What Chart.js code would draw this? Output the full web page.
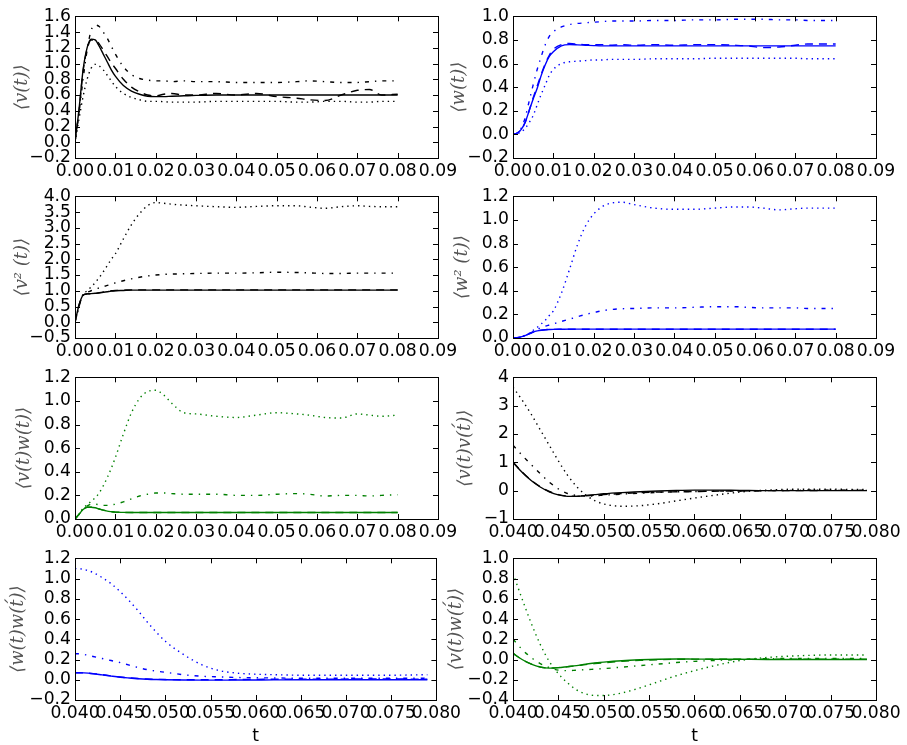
<!DOCTYPE html>
<html>
<head>
<meta charset="utf-8">
<script src="https://cdn.jsdelivr.net/npm/chart.js@4.4.1/dist/chart.umd.min.js"></script>
<style>
  body { margin: 0; background: #fff; width: 907px; height: 745px; overflow: hidden; position: relative; }
  canvas { position: absolute; }
</style>
</head>
<body>
<script>
// time grids
const tRise = [0, 0.001, 0.002, 0.003, 0.004, 0.005, 0.006, 0.007, 0.008, 0.009, 0.010,
  0.012, 0.014, 0.016, 0.018, 0.020, 0.022, 0.024, 0.027, 0.030,
  0.035, 0.040, 0.045, 0.050, 0.055, 0.058, 0.062, 0.066, 0.070, 0.073, 0.076, 0.080];
const tLag = [0.040, 0.041, 0.042, 0.043, 0.044, 0.045, 0.046, 0.047, 0.048, 0.049, 0.050,
  0.052, 0.054, 0.056, 0.058, 0.060, 0.062, 0.065, 0.068, 0.071, 0.075, 0.079];

// tick labels
const xTicksRise = [0, 0.01, 0.02, 0.03, 0.04, 0.05, 0.06, 0.07, 0.08, 0.09];
const xTicksLag = [0.040, 0.045, 0.050, 0.055, 0.060, 0.065, 0.070, 0.075, 0.080];
const yTicks1 = [-0.2, 0, 0.2, 0.4, 0.6, 0.8, 1.0, 1.2, 1.4, 1.6];
const yTicks2 = [-0.2, 0, 0.2, 0.4, 0.6, 0.8, 1.0];
const yTicks3 = [-0.5, 0, 0.5, 1.0, 1.5, 2.0, 2.5, 3.0, 3.5, 4.0];
const yTicks4 = [0, 0.2, 0.4, 0.6, 0.8, 1.0, 1.2];
const yTicks5 = [0, 0.2, 0.4, 0.6, 0.8, 1.0, 1.2];
const yTicks6 = [-1, 0, 1, 2, 3, 4];
const yTicks7 = [-0.2, 0, 0.2, 0.4, 0.6, 0.8, 1.0, 1.2];
const yTicks8 = [-0.4, -0.2, 0, 0.2, 0.4, 0.6, 0.8, 1.0];

const yLabels = ['⟨v(t)⟩', '⟨w(t)⟩', '⟨v² (t)⟩', '⟨w² (t)⟩',
  '⟨v(t)w(t)⟩', '⟨v(t)v(t\u0301)⟩', '⟨w(t)w(t\u0301)⟩', '⟨v(t)w(t\u0301)⟩'];

// <v(t)>
const v1Solid = [0, 0.42, 0.92, 1.2, 1.31, 1.3, 1.22, 1.12, 1.02, 0.92, 0.84,
  0.72, 0.65, 0.61, 0.585, 0.58, 0.58, 0.585, 0.59, 0.595,
  0.6, 0.6, 0.6, 0.6, 0.6, 0.6, 0.6, 0.6, 0.6, 0.6, 0.6, 0.6];
const v1Dashed = [0, 0.4, 0.9, 1.18, 1.3, 1.3, 1.25, 1.17, 1.09, 1.01, 0.94,
  0.8, 0.7, 0.64, 0.6, 0.59, 0.61, 0.62, 0.6, 0.6,
  0.62, 0.6, 0.62, 0.58, 0.56, 0.54, 0.53, 0.6, 0.66, 0.67, 0.6, 0.61];
const v1DashDot = [0, 0.38, 0.8, 1.17, 1.42, 1.49, 1.47, 1.4, 1.32, 1.22, 1.12,
  0.96, 0.86, 0.81, 0.79, 0.78, 0.78, 0.77, 0.78, 0.77,
  0.77, 0.76, 0.76, 0.76, 0.77, 0.78, 0.77, 0.76, 0.76, 0.77, 0.78, 0.78];
const v1Dotted = [0, 0.3, 0.58, 0.8, 0.94, 0.99, 0.97, 0.92, 0.85, 0.78, 0.71,
  0.62, 0.57, 0.54, 0.52, 0.52, 0.515, 0.51, 0.51, 0.51,
  0.52, 0.52, 0.52, 0.52, 0.51, 0.51, 0.52, 0.52, 0.51, 0.51, 0.52, 0.52];

// <w(t)>
const v2Solid = [0, 0.01, 0.04, 0.1, 0.2, 0.3, 0.39, 0.5, 0.59, 0.66, 0.7,
  0.75, 0.76, 0.758, 0.755, 0.752, 0.75, 0.75, 0.75, 0.75,
  0.75, 0.75, 0.75, 0.75, 0.75, 0.75, 0.75, 0.75, 0.75, 0.75, 0.75, 0.75];
const v2Dashed = [0, 0.01, 0.04, 0.1, 0.2, 0.31, 0.41, 0.51, 0.6, 0.67, 0.72,
  0.76, 0.77, 0.765, 0.76, 0.76, 0.76, 0.755, 0.76, 0.755,
  0.76, 0.755, 0.76, 0.76, 0.755, 0.75, 0.735, 0.74, 0.755, 0.765, 0.765, 0.765];
const v2DashDot = [0, 0.01, 0.05, 0.14, 0.28, 0.42, 0.55, 0.66, 0.76, 0.83, 0.87,
  0.91, 0.93, 0.94, 0.945, 0.95, 0.955, 0.96, 0.96, 0.96,
  0.965, 0.965, 0.97, 0.97, 0.975, 0.975, 0.975, 0.97, 0.97, 0.965, 0.965, 0.965];
const v2Dotted = [0, 0.005, 0.02, 0.05, 0.1, 0.16, 0.25, 0.34, 0.42, 0.5, 0.55,
  0.6, 0.615, 0.62, 0.625, 0.63, 0.63, 0.635, 0.635, 0.635,
  0.64, 0.64, 0.64, 0.645, 0.645, 0.645, 0.645, 0.645, 0.645, 0.64, 0.64, 0.64];

// <v^2(t)>
const v3Solid = [0, 0.55, 0.86, 0.9, 0.91, 0.92, 0.93, 0.95, 0.97, 0.99, 1.0,
  1.01, 1.02, 1.02, 1.02, 1.02, 1.02, 1.02, 1.02, 1.02,
  1.02, 1.02, 1.02, 1.02, 1.02, 1.02, 1.02, 1.02, 1.02, 1.02, 1.02, 1.02];
const v3Dashed = [0, 0.55, 0.86, 0.9, 0.91, 0.92, 0.94, 0.96, 0.98, 1.0, 1.01,
  1.02, 1.03, 1.03, 1.03, 1.03, 1.03, 1.03, 1.03, 1.03,
  1.03, 1.03, 1.03, 1.03, 1.03, 1.03, 1.03, 1.03, 1.03, 1.03, 1.03, 1.03];
const v3DashDot = [0, 0.5, 0.88, 0.95, 1.0, 1.05, 1.09, 1.13, 1.17, 1.21, 1.25,
  1.32, 1.38, 1.43, 1.47, 1.5, 1.52, 1.53, 1.54, 1.55,
  1.56, 1.56, 1.57, 1.59, 1.58, 1.57, 1.55, 1.55, 1.56, 1.56, 1.56, 1.56];
const v3Dotted = [0, 0.5, 0.88, 1.0, 1.12, 1.26, 1.42, 1.6, 1.8, 2.0, 2.17,
  2.65, 3.1, 3.45, 3.7, 3.8, 3.78, 3.75, 3.72, 3.7,
  3.67, 3.65, 3.68, 3.7, 3.7, 3.66, 3.62, 3.67, 3.7, 3.68, 3.67, 3.67];

// <w^2(t)>
const v4Solid = [0, 0.003, 0.01, 0.02, 0.035, 0.05, 0.06, 0.066, 0.07, 0.072, 0.073,
  0.074, 0.075, 0.075, 0.075, 0.075, 0.075, 0.075, 0.075, 0.075,
  0.075, 0.075, 0.075, 0.075, 0.075, 0.075, 0.075, 0.075, 0.075, 0.075, 0.075, 0.075];
const v4Dashed = [0, 0.003, 0.01, 0.02, 0.035, 0.05, 0.06, 0.066, 0.07, 0.072, 0.073,
  0.074, 0.074, 0.074, 0.074, 0.074, 0.074, 0.074, 0.074, 0.074,
  0.074, 0.074, 0.074, 0.074, 0.074, 0.074, 0.074, 0.074, 0.074, 0.074, 0.074, 0.074];
const v4DashDot = [0, 0.003, 0.01, 0.02, 0.037, 0.055, 0.072, 0.088, 0.1, 0.11, 0.12,
  0.14, 0.16, 0.18, 0.2, 0.215, 0.23, 0.24, 0.248, 0.25,
  0.255, 0.255, 0.26, 0.265, 0.265, 0.26, 0.255, 0.255, 0.255, 0.25, 0.25, 0.25];
const v4Dotted = [0, 0.003, 0.01, 0.022, 0.04, 0.065, 0.09, 0.12, 0.15, 0.19, 0.23,
  0.38, 0.58, 0.79, 0.95, 1.05, 1.11, 1.14, 1.15, 1.13,
  1.1, 1.09, 1.09, 1.1, 1.11, 1.11, 1.1, 1.085, 1.095, 1.1, 1.1, 1.1];

// <v(t)w(t)>
const v5Solid = [0, 0.04, 0.08, 0.1, 0.1, 0.095, 0.085, 0.075, 0.067, 0.062, 0.058,
  0.056, 0.055, 0.055, 0.055, 0.055, 0.055, 0.055, 0.055, 0.055,
  0.055, 0.055, 0.055, 0.055, 0.055, 0.055, 0.055, 0.055, 0.055, 0.055, 0.055, 0.055];
const v5Dashed = [0, 0.04, 0.08, 0.1, 0.1, 0.095, 0.085, 0.075, 0.067, 0.062, 0.058,
  0.056, 0.055, 0.055, 0.055, 0.055, 0.055, 0.055, 0.055, 0.055,
  0.055, 0.055, 0.055, 0.055, 0.055, 0.055, 0.055, 0.055, 0.055, 0.055, 0.055, 0.055];
const v5DashDot = [0, 0.04, 0.085, 0.11, 0.125, 0.125, 0.12, 0.115, 0.115, 0.12, 0.125,
  0.145, 0.17, 0.195, 0.21, 0.22, 0.22, 0.215, 0.21, 0.21,
  0.21, 0.2, 0.2, 0.21, 0.215, 0.21, 0.195, 0.2, 0.2, 0.195, 0.2, 0.205];
const v5Dotted = [0, 0.04, 0.09, 0.12, 0.15, 0.18, 0.22, 0.28, 0.35, 0.43, 0.52,
  0.72, 0.9, 1.02, 1.08, 1.09, 1.05, 0.98, 0.9, 0.89,
  0.87, 0.86, 0.88, 0.9, 0.89, 0.88, 0.86, 0.855, 0.89, 0.88, 0.87, 0.88];

// <v(t)v(t')>
const v6Solid = [1.0, 0.65, 0.36, 0.13, -0.04, -0.15, -0.2, -0.2, -0.17, -0.14, -0.11,
  -0.07, -0.04, -0.01, 0.01, 0.02, 0.02, 0.01, 0, 0, 0, 0];
const v6Dashed = [1.0, 0.66, 0.37, 0.14, -0.03, -0.14, -0.19, -0.2, -0.18, -0.16, -0.14,
  -0.1, -0.07, -0.05, -0.04, -0.03, -0.02, -0.01, 0, 0, 0.01, 0.01];
const v6DashDot = [1.6, 1.25, 0.92, 0.6, 0.3, 0.06, -0.1, -0.17, -0.19, -0.18, -0.16,
  -0.12, -0.09, -0.06, -0.04, -0.03, -0.02, -0.01, 0, 0.01, 0.02, 0.02];
const v6Dotted = [3.65, 3.2, 2.7, 2.15, 1.6, 1.05, 0.55, 0.15, -0.15, -0.35, -0.47,
  -0.55, -0.53, -0.46, -0.36, -0.26, -0.17, -0.05, 0.02, 0.05, 0.05, 0.04];

// <w(t)w(t')>
const v7Solid = [0.07, 0.068, 0.06, 0.048, 0.036, 0.025, 0.017, 0.01, 0.005, 0.002, 0,
  -0.003, -0.004, -0.004, -0.003, -0.002, -0.001, 0, 0, 0, 0, 0];
const v7Dashed = [0.07, 0.068, 0.061, 0.05, 0.038, 0.027, 0.019, 0.012, 0.007, 0.004, 0.002,
  0, 0, 0, 0.002, 0.004, 0.005, 0.006, 0.006, 0.007, 0.007, 0.006];
const v7DashDot = [0.26, 0.25, 0.23, 0.21, 0.19, 0.17, 0.145, 0.12, 0.1, 0.085, 0.074,
  0.05, 0.035, 0.028, 0.022, 0.02, 0.018, 0.015, 0.015, 0.015, 0.015, 0.015];
const v7Dotted = [1.1, 1.09, 1.06, 1.01, 0.95, 0.87, 0.78, 0.68, 0.57, 0.47, 0.38,
  0.25, 0.15, 0.09, 0.065, 0.055, 0.05, 0.045, 0.045, 0.045, 0.045, 0.05];

// <v(t)w(t')>
const v8Solid = [0.06, 0, -0.045, -0.075, -0.085, -0.08, -0.07, -0.06, -0.045, -0.035, -0.026,
  -0.012, -0.003, 0.003, 0.005, 0.004, 0.003, 0.002, 0, 0, 0, 0];
const v8Dashed = [0.06, 0, -0.044, -0.074, -0.084, -0.08, -0.072, -0.062, -0.05, -0.04, -0.032,
  -0.018, -0.008, -0.002, 0.002, 0.004, 0.004, 0.003, 0.002, 0.002, 0.003, 0.003];
const v8DashDot = [0.2, 0.1, 0.02, -0.04, -0.08, -0.105, -0.11, -0.105, -0.1, -0.095, -0.09,
  -0.075, -0.06, -0.045, -0.03, -0.018, -0.01, 0, 0.008, 0.01, 0.01, 0.01];
const v8Dotted = [0.85, 0.6, 0.36, 0.15, -0.02, -0.14, -0.23, -0.3, -0.34, -0.355, -0.355,
  -0.33, -0.28, -0.22, -0.16, -0.11, -0.065, -0.01, 0.02, 0.035, 0.045, 0.045];

const BLACK = '#000000', BLUE = '#0000ff', GREEN = '#008000';
const SOLID = [], DASHED = [8, 6], DASHDOT = [4, 6, 1.4, 6], DOTTED = [1.4, 4];
const FS = 17.2;
const TITLE_FS = 18;

Chart.defaults.font.family = 'DejaVu Sans';
Chart.defaults.font.size = FS;
Chart.defaults.color = '#000';

// inward ticks on all four sides plus the frame
const frameTicks = {
  id: 'frameTicks',
  afterDatasetsDraw(chart) {
    const {ctx, chartArea: a, scales: {x, y}} = chart;
    ctx.save();
    ctx.strokeStyle = '#000';
    ctx.lineWidth = 1;
    ctx.beginPath();
    x.ticks.forEach(t => {
      const px = Math.round(x.getPixelForValue(t.value)) + 0.5;
      ctx.moveTo(px, a.bottom); ctx.lineTo(px, a.bottom - 5);
      ctx.moveTo(px, a.top); ctx.lineTo(px, a.top + 5);
    });
    y.ticks.forEach(t => {
      const py = Math.round(y.getPixelForValue(t.value)) + 0.5;
      ctx.moveTo(a.left, py); ctx.lineTo(a.left + 5, py);
      ctx.moveTo(a.right, py); ctx.lineTo(a.right - 5, py);
    });
    ctx.stroke();
    ctx.strokeRect(Math.round(a.left) + 0.5, Math.round(a.top) + 0.5,
      Math.round(a.right - a.left), Math.round(a.bottom - a.top));
    ctx.restore();
  }
};

function fmt(v, d) {
  return (v < 0 ? '\u2212' : '') + Math.abs(v).toFixed(d);
}

function line(t, v, color, dash) {
  return {
    data: t.map((x, i) => ({x: x, y: v[i]})),
    borderColor: color, borderWidth: 1.4, borderDash: dash,
    pointRadius: 0, fill: false, cubicInterpolationMode: 'monotone'
  };
}

const rowTops = [14, 194, 375, 556];
const PLOT_H = 144;

function panel(col, row, t, series, color, xTicks, xDec, yTicks, yDec, label, titlePad) {
  const left = col === 0 ? 0 : 440;
  const width = col === 0 ? 464 : 467;
  const yWidth = col === 0 ? 75 : 73;
  const padRight = col === 0 ? 26 : 31;
  const xH = row === 3 ? 47 : 30;
  const height = 12 + PLOT_H + xH;

  const cv = document.createElement('canvas');
  cv.width = width; cv.height = height;
  cv.style.left = left + 'px';
  cv.style.top = (rowTops[row] - 12) + 'px';
  cv.style.width = width + 'px';
  cv.style.height = height + 'px';
  document.body.appendChild(cv);

  const dashes = [SOLID, DASHED, DASHDOT, DOTTED];
  new Chart(cv, {
    type: 'line',
    data: {datasets: series.map((s, i) => line(t, s, color, dashes[i]))},
    options: {
      responsive: false, animation: false, events: [],
      layout: {padding: {left: 0, right: padRight, top: 12, bottom: 0}},
      plugins: {legend: {display: false}, tooltip: {enabled: false}},
      scales: {
        x: {
          type: 'linear', min: xTicks[0], max: xTicks[xTicks.length - 1],
          grid: {display: false, drawTicks: false}, border: {display: false},
          afterBuildTicks: s => { s.ticks = xTicks.map(v => ({value: v})); },
          afterFit: s => { s.height = xH; },
          ticks: {autoSkip: false, maxRotation: 0, minRotation: 0, padding: 3,
            callback: v => fmt(v, xDec)},
          title: {display: row === 3, text: 't', padding: {top: 0, bottom: 0}}
        },
        y: {
          type: 'linear', min: yTicks[0], max: yTicks[yTicks.length - 1],
          grid: {display: false, drawTicks: false}, border: {display: false},
          afterBuildTicks: s => { s.ticks = yTicks.map(v => ({value: v})); },
          afterFit: s => { s.width = yWidth; },
          ticks: {autoSkip: false, padding: 4, callback: v => fmt(v, yDec)},
          title: {display: true, text: label, color: '#555',
            font: {family: 'DejaVu Serif', style: 'italic', size: TITLE_FS},
            padding: {top: titlePad, bottom: 0}}
        }
      }
    },
    plugins: [frameTicks]
  });
}

panel(0, 0, tRise, [v1Solid, v1Dashed, v1DashDot, v1Dotted], BLACK, xTicksRise, 2, yTicks1, 1, yLabels[0], 12);
panel(1, 0, tRise, [v2Solid, v2Dashed, v2DashDot, v2Dotted], BLUE, xTicksRise, 2, yTicks2, 1, yLabels[1], 9);
panel(0, 1, tRise, [v3Solid, v3Dashed, v3DashDot, v3Dotted], BLACK, xTicksRise, 2, yTicks3, 1, yLabels[2], 12);
panel(1, 1, tRise, [v4Solid, v4Dashed, v4DashDot, v4Dotted], BLUE, xTicksRise, 2, yTicks4, 1, yLabels[3], 12);
panel(0, 2, tRise, [v5Solid, v5Dashed, v5DashDot, v5Dotted], GREEN, xTicksRise, 2, yTicks5, 1, yLabels[4], 14);
panel(1, 2, tLag, [v6Solid, v6Dashed, v6DashDot, v6Dotted], BLACK, xTicksLag, 3, yTicks6, 0, yLabels[5], 15);
panel(0, 3, tLag, [v7Solid, v7Dashed, v7DashDot, v7Dotted], BLUE, xTicksLag, 3, yTicks7, 1, yLabels[6], 8);
panel(1, 3, tLag, [v8Solid, v8Dashed, v8DashDot, v8Dotted], GREEN, xTicksLag, 3, yTicks8, 1, yLabels[7], 6);
</script>
</body>
</html>
